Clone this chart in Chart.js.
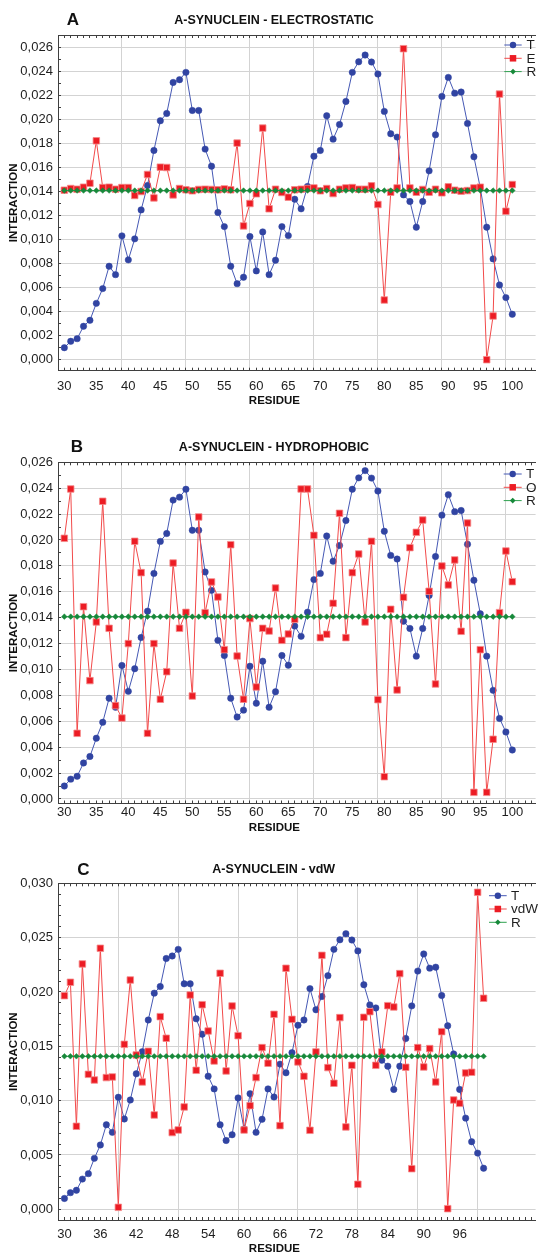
<!DOCTYPE html>
<html><head><meta charset="utf-8">
<script src="https://cdn.jsdelivr.net/npm/chart.js@4.4.0/dist/chart.umd.min.js"></script>
<style>
html,body{margin:0;padding:0;background:#fff;overflow:hidden;width:541px;height:1254px;position:relative;}
canvas{position:absolute;left:0;}
</style></head><body>
<canvas id="cA" width="541" height="415" style="top:0px"></canvas>
<canvas id="cB" width="541" height="430" style="top:410px"></canvas>
<canvas id="cC" width="541" height="424" style="top:830px"></canvas>
<script>
// ---------- DATA ----------
const residues = [30,31,32,33,34,35,36,37,38,39,40,41,42,43,44,45,46,47,48,49,50,51,52,53,54,55,56,57,58,59,60,61,62,63,64,65,66,67,68,69,70,71,72,73,74,75,76,77,78,79,80,81,82,83,84,85,86,87,88,89,90,91,92,93,94,95,96,97,98,99,100];

const seriesT = [0.0010,0.00153,0.00175,0.00278,0.00328,0.00469,0.00592,0.00778,0.00708,0.01031,
  0.00831,0.01006,0.01247,0.0145,0.01742,0.01989,0.0205,0.02308,0.02331,0.02392,
  0.02075,0.02075,0.01753,0.01611,0.01225,0.01108,0.00778,0.00633,0.00686,0.01025,
  0.00739,0.01064,0.00708,0.00828,0.01108,0.01033,0.01336,0.01256,0.01442,0.01694,
  0.01742,0.02031,0.01836,0.01958,0.0215,0.02392,0.0248,0.02536,0.02478,0.02378,
  0.02067,0.01881,0.01853,0.01372,0.01317,0.01103,0.01317,0.01572,0.01872,0.02192,
  0.0235,0.02219,0.02228,0.01967,0.01689,0.0143,0.01103,0.00839,0.00622,0.00517,0.00378];

const seriesE = [0.01411,0.01425,0.01419,0.01436,0.01469,0.01822,0.01433,0.01436,0.01419,0.01433,
  0.01433,0.01367,0.0140,0.01542,0.01347,0.01603,0.0160,0.01372,0.01425,0.01414,
  0.01406,0.01417,0.01419,0.01417,0.01414,0.01422,0.01414,0.01803,0.01114,0.0130,
  0.01381,0.01928,0.01256,0.01419,0.01392,0.01353,0.01414,0.01419,0.01425,0.0143,
  0.01406,0.01425,0.01383,0.01419,0.0143,0.01433,0.01419,0.01419,0.01447,0.01292,
  0.00497,0.01394,0.0143,0.02589,0.0143,0.01394,0.01417,0.01394,0.01419,0.01389,
  0.01439,0.01411,0.01403,0.01408,0.0143,0.01436,0.0000,0.00364,0.02211,0.01236,0.01458];

const seriesO = [0.02013,0.02394,0.00507,0.01485,0.00914,0.01367,0.02299,0.01318,0.00721,0.00625,
  0.0120,0.0199,0.01748,0.00507,0.0120,0.0077,0.00983,0.01822,0.01318,0.01441,
  0.00795,0.02178,0.01439,0.01676,0.0156,0.01153,0.01964,0.01104,0.0077,0.01393,
  0.00865,0.01318,0.01297,0.01629,0.01225,0.01274,0.01387,0.02394,0.02394,0.02036,
  0.01246,0.01272,0.01511,0.02206,0.01246,0.01748,0.01892,0.01367,0.0199,0.00767,
  0.00172,0.01465,0.00842,0.01557,0.01941,0.02059,0.02154,0.01604,0.00888,0.01799,
  0.01653,0.01846,0.01295,0.02131,0.00051,0.01153,0.00051,0.00461,0.01439,0.01915,0.01678];

const seriesVdW = [0.01966,0.02089,0.00764,0.02258,0.01242,0.0119,0.02402,0.01212,0.01218,0.00018,
  0.01518,0.0211,0.0142,0.01172,0.01454,0.00868,0.01773,0.01574,0.00706,0.0073,
  0.00942,0.01972,0.01279,0.01883,0.01641,0.01365,0.02172,0.01273,0.01871,0.01598,
  0.0073,0.00954,0.01212,0.01488,0.01344,0.01794,0.0077,0.02218,0.01748,0.01356,
  0.01224,0.00727,0.01448,0.02337,0.01304,0.0116,0.01764,0.00758,0.01325,0.0023,
  0.01767,0.01819,0.01325,0.01448,0.01874,0.01862,0.02169,0.01307,0.00374,0.01488,
  0.0131,0.01479,0.01172,0.01635,0.00006,0.01006,0.00975,0.01255,0.01261,0.02917,0.01942];

const seriesR = [0.01408,0.01408,0.01408,0.01408,0.01408,0.01408,0.01408,0.01408,0.01408,0.01408,
  0.01408,0.01408,0.01408,0.01408,0.01408,0.01408,0.01408,0.01408,0.01408,0.01408,
  0.01408,0.01408,0.01408,0.01408,0.01408,0.01408,0.01408,0.01408,0.01408,0.01408,
  0.01408,0.01408,0.01408,0.01408,0.01408,0.01408,0.01408,0.01408,0.01408,0.01408,
  0.01408,0.01408,0.01408,0.01408,0.01408,0.01408,0.01408,0.01408,0.01408,0.01408,
  0.01408,0.01408,0.01408,0.01408,0.01408,0.01408,0.01408,0.01408,0.01408,0.01408,
  0.01408,0.01408,0.01408,0.01408,0.01408,0.01408,0.01408,0.01408,0.01408,0.01408,0.01408];

const xTickLabelsAB = [30,35,40,45,50,55,60,65,70,75,80,85,90,95,100];
const xTickLabelsC  = [30,36,42,48,54,60,66,72,78,84,90,96];
const xGridLines    = [39,49,59,69,79,89,99];
const yTickLabelsAB = [0,0.002,0.004,0.006,0.008,0.010,0.012,0.014,0.016,0.018,0.020,0.022,0.024,0.026];
const yTickLabelsC  = [0,0.005,0.010,0.015,0.020,0.025,0.030];

// ---------- STYLE ----------
const FONT = "'Liberation Sans', Arial, Helvetica, sans-serif";
const TICK_SIZE = 13;
const C_BLUE = '#3144a2', C_BLUE_LINE = '#4558b4';
const C_RED = '#ec1c24', C_RED_LINE = '#f24a4a', C_RED_EDGE = '#f58a8a';
const C_GREEN = '#17893a', C_GREEN_LINE = '#2fa24f';
const C_GRID = '#d3d3d3', C_FRAME = '#3f3f3f', C_TEXT = '#1e1e1e';

function near(list, v) { return list.some(t => Math.abs(t - v) < 1e-9); }

function drawMarker(ctx, style, r, x, y) {
  ctx.beginPath();
  if (style === 'circle') { ctx.arc(x, y, r, 0, Math.PI * 2); }
  else if (style === 'rect') { const s = r * Math.SQRT1_2; ctx.rect(x - s, y - s, 2 * s, 2 * s); }
  else { ctx.moveTo(x, y - r); ctx.lineTo(x + r, y); ctx.lineTo(x, y + r); ctx.lineTo(x - r, y); ctx.closePath(); }
  ctx.fill();
}

const decoPlugin = {
  id: 'deco',
  afterDraw(chart, args, o) {
    const ctx = chart.ctx;
    ctx.save();
    ctx.fillStyle = '#111';
    ctx.textBaseline = 'middle';
    ctx.textAlign = 'center';
    ctx.font = 'bold 17px ' + FONT;
    ctx.fillText(o.letter, o.letterX, o.titleY);
    ctx.font = 'bold 12.5px ' + FONT;
    ctx.fillText(o.title, o.titleX, o.titleY);
    ctx.font = 'bold 11.5px ' + FONT;
    ctx.fillText('RESIDUE', o.xTitleX, o.xTitleY);
    // legend (line + marker, like the reference)
    ctx.textAlign = 'left';
    ctx.font = '13.5px ' + FONT;
    chart.data.datasets.forEach((ds, i) => {
      const y = o.legY + i * o.legDy;
      ctx.strokeStyle = ds.borderColor; ctx.lineWidth = 1;
      ctx.beginPath(); ctx.moveTo(o.legX0, y); ctx.lineTo(o.legX1, y); ctx.stroke();
      ctx.fillStyle = ds.pointBackgroundColor;
      drawMarker(ctx, ds.pointStyle, ds.pointRadius, (o.legX0 + o.legX1) / 2, y);
      ctx.fillStyle = C_TEXT;
      ctx.fillText(ds.label, o.legTextX, y + 0.5);
    });
    ctx.restore();
  }
};

function makePanel(id, p) {
  const pts = arr => residues.map((r, i) => ({ x: r, y: arr[i] }));
  const xTicks = [];
  for (let r = 30; r <= p.xMax; r++) xTicks.push(r);
  const yTicks = [];
  for (let k = 0; k * 0.001 <= p.yMax + 1e-12; k++) yTicks.push(+(k * 0.001).toFixed(6));
  const xCommon = {
    type: 'linear', min: p.xMin, max: p.xMax,
    afterBuildTicks: a => { a.ticks = xTicks.map(v => ({ value: v })); }
  };
  new Chart(document.getElementById(id), {
    type: 'line',
    data: {
      datasets: [
        { label: 'T', data: pts(seriesT), borderColor: C_BLUE_LINE, borderWidth: 1,
          pointStyle: 'circle', pointRadius: 3.2, pointBackgroundColor: C_BLUE, pointBorderColor: C_BLUE,
          pointBorderWidth: 0.5, order: 3 },
        { label: p.redLabel, data: pts(p.redData), borderColor: C_RED_LINE, borderWidth: 1,
          pointStyle: 'rect', pointRadius: 4.6, pointBackgroundColor: C_RED, pointBorderColor: C_RED_EDGE,
          pointBorderWidth: 0.8, order: 2 },
        { label: 'R', data: pts(seriesR), borderColor: C_GREEN_LINE, borderWidth: 1,
          pointStyle: 'rectRot', pointRadius: 2.8, pointBackgroundColor: C_GREEN, pointBorderColor: C_GREEN,
          pointBorderWidth: 0.5, order: 1 }
      ]
    },
    options: {
      responsive: false, animation: false, devicePixelRatio: 1, events: [],
      layout: { padding: { top: p.padTop, left: 0, right: 0, bottom: 0 } },
      elements: { line: { tension: 0 } },
      plugins: {
        legend: { display: false }, tooltip: { enabled: false },
        deco: p.deco
      },
      scales: {
        x: Object.assign({}, xCommon, {
          position: 'bottom',
          afterFit: s => { s.height = p.xAxisH; s.paddingLeft = 0; s.paddingRight = 0; },
          grid: {
            color: c => (c.tick && near(xGridLines, c.tick.value)) ? C_GRID : 'rgba(0,0,0,0)',
            lineWidth: 1, drawTicks: true, tickLength: -3, tickColor: C_FRAME, tickWidth: 1
          },
          border: { display: true, color: C_FRAME, width: 1 },
          ticks: {
            autoSkip: false, maxRotation: 0, minRotation: 0, padding: p.xPad, color: C_TEXT,
            font: { family: FONT, size: TICK_SIZE },
            callback: v => near(p.xLabels, v) ? String(v) : ''
          }
        }),
        xt: Object.assign({}, xCommon, {
          position: 'top',
          afterFit: s => { s.height = 0; s.paddingLeft = 0; s.paddingRight = 0; },
          grid: { drawOnChartArea: false, drawTicks: true, tickLength: -3, tickColor: C_FRAME, tickWidth: 1 },
          border: { display: true, color: C_FRAME, width: 1 },
          ticks: { display: false }
        }),
        y: {
          type: 'linear', position: 'left', min: p.yMin, max: p.yMax,
          afterBuildTicks: a => { a.ticks = yTicks.map(v => ({ value: v })); },
          afterFit: s => { s.width = 58; s.paddingTop = 0; s.paddingBottom = 0; },
          grid: {
            color: c => (c.tick && near(p.yLabels, c.tick.value)) ? C_GRID : 'rgba(0,0,0,0)',
            lineWidth: 1, drawTicks: true, tickLength: -3, tickColor: C_FRAME, tickWidth: 1
          },
          border: { display: true, color: C_FRAME, width: 1 },
          ticks: {
            autoSkip: false, padding: 8.1, color: C_TEXT, font: { family: FONT, size: TICK_SIZE },
            callback: v => near(p.yLabels, v) ? v.toFixed(3).replace('.', ',') : ''
          },
          title: {
            display: true, text: 'INTERACTION', color: '#111',
            font: { family: FONT, size: 11.5, weight: 'bold' }, padding: { top: 6.6, bottom: 0 }
          }
        }
      }
    },
    plugins: [decoPlugin]
  });
}

makePanel('cA', {
  redLabel: 'E', redData: seriesE,
  xMin: 29.011, xMax: 103.64, xLabels: xTickLabelsAB,
  yMin: -0.000916, yMax: 0.02703, yLabels: yTickLabelsAB,
  padTop: 35, xAxisH: 44.3, xPad: 10.5,
  deco: { letter: 'A', letterX: 73, title: 'A-SYNUCLEIN - ELECTROSTATIC', titleX: 274, titleY: 20.7,
          xTitleX: 274.4, xTitleY: 400.7,
          legY: 45, legDy: 13.3, legX0: 504.3, legX1: 521.7, legTextX: 526.5 }
});

makePanel('cB', {
  redLabel: 'O', redData: seriesO,
  xMin: 29.011, xMax: 103.64, xLabels: xTickLabelsAB,
  yMin: -0.00035, yMax: 0.026, yLabels: yTickLabelsAB,
  padTop: 52.3, xAxisH: 36.5, xPad: 3.7,
  deco: { letter: 'B', letterX: 77, title: 'A-SYNUCLEIN - HYDROPHOBIC', titleX: 274, titleY: 37.3,
          xTitleX: 274.4, xTitleY: 418.3,
          legY: 64, legDy: 13.3, legX0: 503.7, legX1: 521.7, legTextX: 526 }
});

makePanel('cC', {
  redLabel: 'vdW', redData: seriesVdW,
  xMin: 28.927, xMax: 108.68, xLabels: xTickLabelsC,
  yMin: -0.000985, yMax: 0.030, yLabels: yTickLabelsC,
  padTop: 53.3, xAxisH: 34, xPad: 9.5,
  deco: { letter: 'C', letterX: 83.3, title: 'A-SYNUCLEIN - vdW', titleX: 273.7, titleY: 40,
          xTitleX: 274.4, xTitleY: 419.3,
          legY: 65.7, legDy: 13.3, legX0: 489, legX1: 506.7, legTextX: 511 }
});
</script>
</body></html>
